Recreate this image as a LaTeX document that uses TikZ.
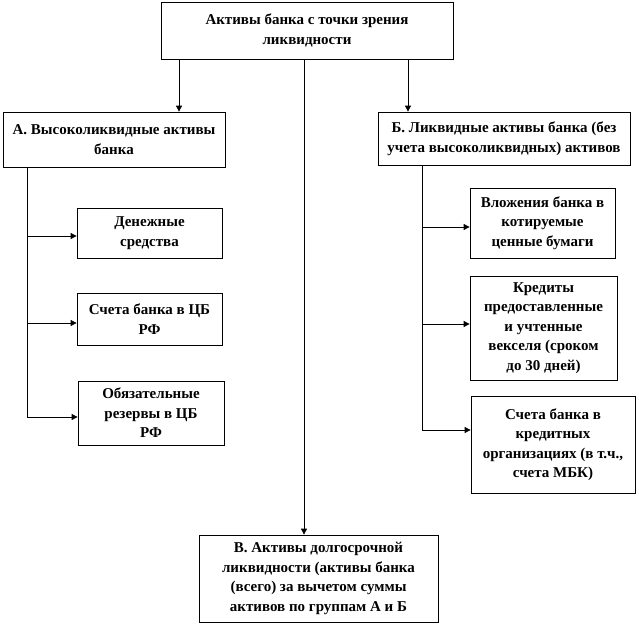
\documentclass[tikz,border=0pt]{standalone}
\usepackage{fontspec}
\setmainfont{Liberation Serif}
\usetikzlibrary{arrows.meta,positioning}

\tikzset{
  box/.style={draw,line width=0.75pt,align=center,inner sep=0pt,
    font=\bfseries\fontsize{15}{19.5}\selectfont},
  link/.style={line width=0.75pt,-{Triangle[length=6pt,width=6pt]}}
}

\begin{document}
\begin{tikzpicture}[x=1pt,y=-1pt]
	\useasboundingbox (0,0) rectangle (639,626);
	% groups
	\node[box,minimum width=292pt,minimum height=57pt] (top) at (307,30.5) {Активы банка с точки зрения\\ликвидности};
	\node[box,minimum width=222pt,minimum height=55pt] (grA) at (114,139.5) {А. Высоколиквидные активы\\банка};
	\node[box,minimum width=252pt,minimum height=53pt] (grB) at (504,138.5) {Б. Ликвидные активы банка (без\\учета высоколиквидных) активов};
	\node[box,minimum width=239pt,minimum height=87pt] (grV) at (318.5,578.5) {В. Активы долгосрочной\\ликвидности (активы банка\\(всего) за вычетом суммы\\активов по группам А и Б};
	% group A items
	\node[box,minimum width=145pt,minimum height=50pt] (cash) at (149.5,233) {Денежные\\средства};
	\node[box,minimum width=145pt,minimum height=52pt] (cbacc) at (149.5,319) {Счета банка в ЦБ\\РФ};
	\node[box,minimum width=146pt,minimum height=64pt] (reserve) at (151,413) {Обязательные\\резервы в ЦБ\\РФ};
	% group B items
	\node[box,minimum width=145pt,minimum height=70pt] (secur) at (542.5,223) {Вложения банка в\\котируемые\\ценные бумаги};
	\node[box,minimum width=147pt,minimum height=104pt] (loans) at (543.5,328) {Кредиты\\предоставленные\\и учтенные\\векселя (сроком\\до 30 дней)};
	\node[box,minimum width=164pt,minimum height=97pt] (corr) at (553,444.5) {Счета банка в\\кредитных\\организациях (в т.ч.,\\счета МБК)};
	% from the top box
	\coordinate (colA) at (179,0);
	\coordinate (colV) at (304,0);
	\coordinate (colB) at (408,0);
	\draw[link] (top.south -| colA) -- (grA.north -| colA);
	\draw[link] (top.south -| colV) -- (grV.north -| colV);
	\draw[link] (top.south -| colB) -- (grB.north -| colB);
	% trunks
	\coordinate (endA) at (27,418);
	\coordinate (endB) at (422,430);
	\draw[line width=0.75pt] (grA.south -| endA) -- (endA);
	\draw[line width=0.75pt] (grB.south -| endB) -- (endB);
	\coordinate (inCash) at (0,236);
	\coordinate (inCb) at (0,323);
	\coordinate (inRes) at (0,417);
	\coordinate (inSec) at (0,227);
	\coordinate (inLoan) at (0,324);
	\coordinate (inCorr) at (0,430);
	\draw[link] (endA |- inCash) -- (cash.west |- inCash);
	\draw[link] (endA |- inCb) -- (cbacc.west |- inCb);
	\draw[link] (endA |- inRes) -- (reserve.west |- inRes);
	\draw[link] (endB |- inSec) -- (secur.west |- inSec);
	\draw[link] (endB |- inLoan) -- (loans.west |- inLoan);
	\draw[link] (endB |- inCorr) -- (corr.west |- inCorr);
\end{tikzpicture}
\end{document}
